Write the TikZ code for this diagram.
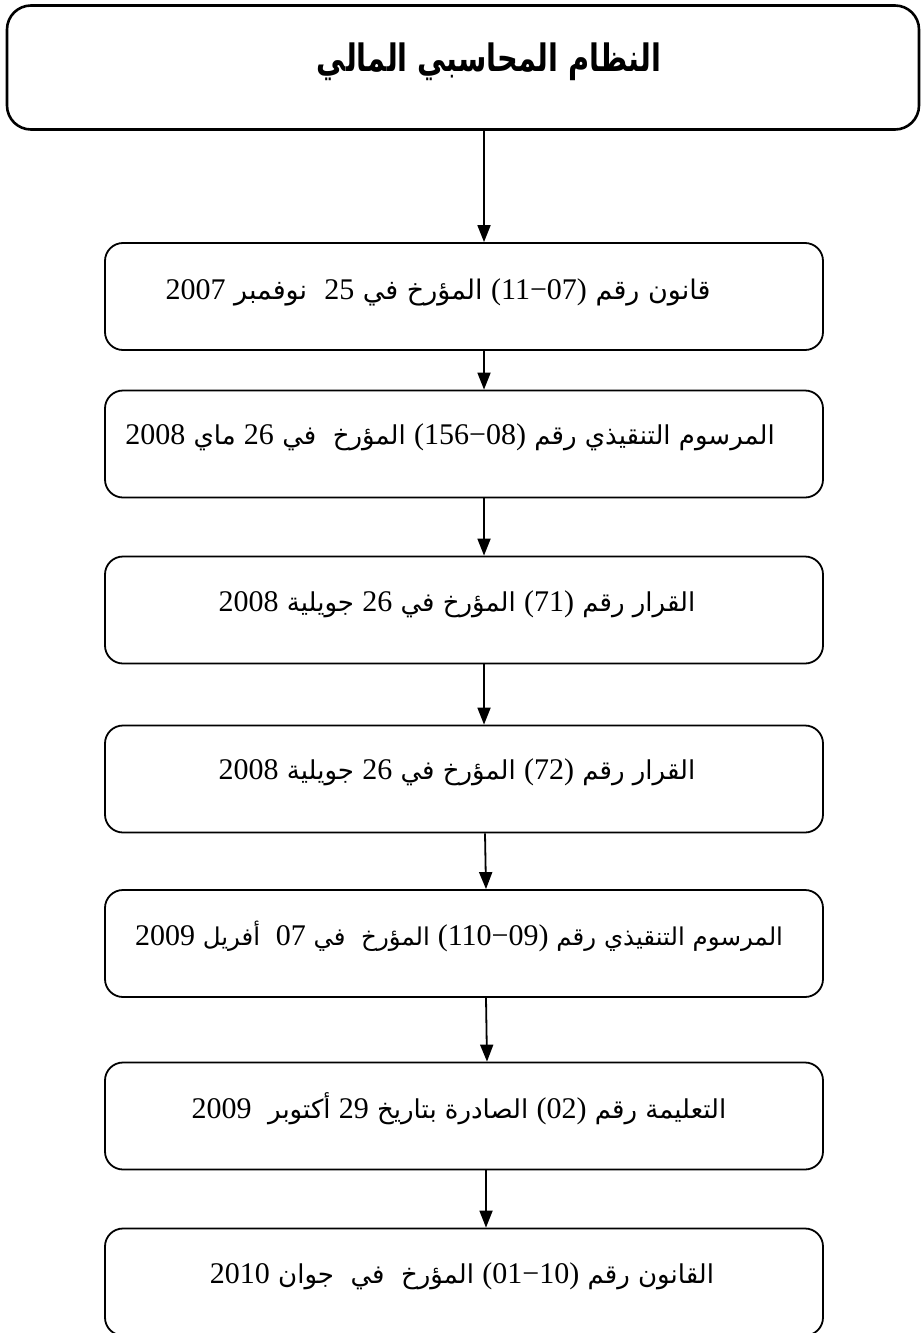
\documentclass[tikz,border=0pt]{standalone}
\usepackage{fontspec}
\setmainfont{Liberation Serif}
\newfontfamily\arabicfont[Script=Arabic]{DejaVu Sans}
\TeXXeTstate=1
\usetikzlibrary{arrows.meta}
\newcommand{\nm}[1]{\hbox{\fontsize{30}{34}\rmfamily\selectfont\beginL#1\endL}}
\tikzset{
  stepbox/.style={draw, line width=1.8pt, rounded corners=18pt, minimum width=718pt, minimum height=107pt, inner sep=0pt},
  topbox/.style={draw, line width=2.6pt, rounded corners=24pt, minimum width=912pt, minimum height=124pt, inner sep=0pt},
  lbl/.style={font=\fontsize{26}{30}\selectfont, inner sep=0pt},
  ttl/.style={font=\fontsize{32}{38}\selectfont\bfseries, inner sep=0pt, xscale=0.9, yscale=1.18},
  arr/.style={line width=1.8pt, -{Triangle[length=17pt,width=13pt]}}
}
\begin{document}
\begin{tikzpicture}[x=1pt,y=-1pt]
\useasboundingbox (0,0) rectangle (922,1333);
\node[topbox] (top) at (463,67.5) {};
\node[ttl] (ttop) at (489,62) {\arabicfont\beginR النظام المحاسبي المالي\endR};
\node[stepbox] (b1) at (464,296.5) {};
\node[stepbox] (b2) at (464,444) {};
\node[stepbox] (b3) at (464,610) {};
\node[stepbox] (b4) at (464,779) {};
\node[stepbox] (b5) at (464,943.5) {};
\node[stepbox] (b6) at (464,1116) {};
\node[stepbox] (b7) at (464,1282) {};
\node[lbl, font=\fontsize{27}{30}\selectfont] (t1) at (438,292) {\arabicfont\beginR قانون رقم \nm{(11−07)} المؤرخ في \nm{25}\ \ نوفمبر \nm{2007}\endR};
\node[lbl] (t2) at (450,437) {\arabicfont\beginR المرسوم التنقيذي رقم \nm{(156−08)} المؤرخ\ \ في \nm{26} ماي \nm{2008}\endR};
\node[lbl] (t3) at (457,604) {\arabicfont\beginR القرار رقم \nm{(71)} المؤرخ في \nm{26} جويلية \nm{2008}\endR};
\node[lbl] (t4) at (457,772) {\arabicfont\beginR القرار رقم \nm{(72)} المؤرخ في \nm{26} جويلية \nm{2008}\endR};
\node[lbl, font=\fontsize{24.5}{30}\selectfont] (t5) at (459,936) {\arabicfont\beginR المرسوم التنقيذي رقم \nm{(110−09)} المؤرخ\ \ في \nm{07}\ \ أفريل \nm{2009}\endR};
\node[lbl] (t6) at (459,1109) {\arabicfont\beginR التعليمة رقم \nm{(02)} الصادرة بتاريخ \nm{29} أكتوبر\ \ \nm{2009}\endR};
\node[lbl] (t7) at (462,1276) {\arabicfont\beginR القانون رقم \nm{(01−10)} المؤرخ\ \ في\ \ جوان \nm{2010}\endR};
\draw[arr] ([xshift=20pt]b1.north |- top.south) -- ([xshift=20pt]b1.north);
\draw[arr] ([xshift=20pt]b1.south) -- ([xshift=20pt]b2.north);
\draw[arr] ([xshift=20pt]b2.south) -- ([xshift=20pt]b3.north);
\draw[arr] ([xshift=20pt]b3.south) -- ([xshift=20pt]b4.north);
\draw[arr] ([xshift=21pt]b4.south) -- ([xshift=22pt]b5.north);
\draw[arr] ([xshift=22pt]b5.south) -- ([xshift=23pt]b6.north);
\draw[arr] ([xshift=22pt]b6.south) -- ([xshift=22pt]b7.north);
\end{tikzpicture}
\end{document}
